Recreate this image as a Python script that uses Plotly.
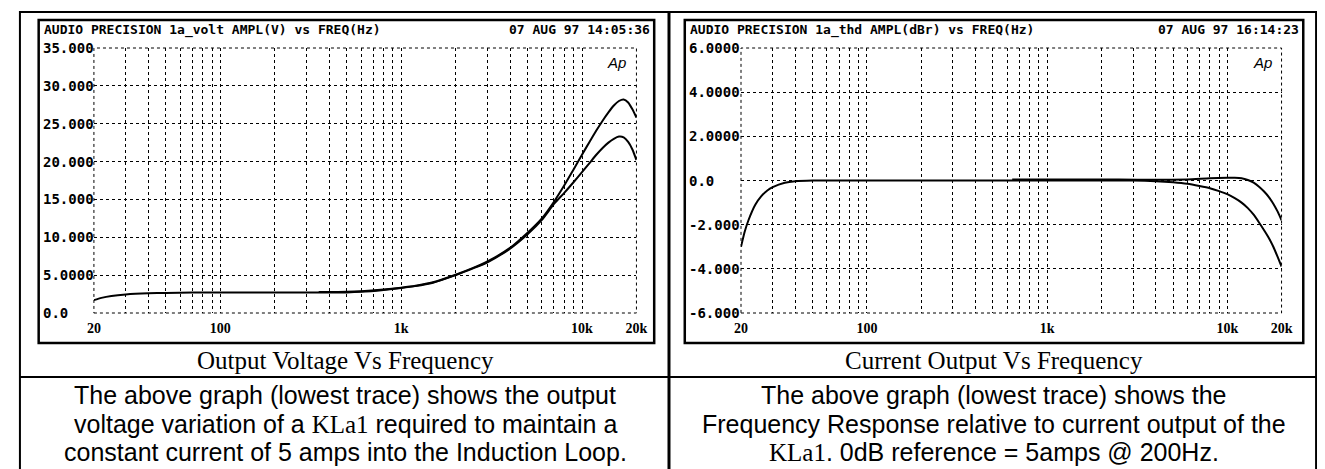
import math
import plotly.graph_objects as go

W, H = 1325, 469

# ---------------- data ----------------
grid_freqs = [20, 30, 40, 50, 60, 70, 80, 90, 100, 200, 300, 400, 500, 600, 700, 800, 900,
              1000, 2000, 3000, 4000, 5000, 6000, 7000, 8000, 9000, 10000, 20000]
x_labels = {20: "20", 100: "100", 1000: "1k", 10000: "10k", 20000: "20k"}

volt_ticks = [0, 5, 10, 15, 20, 25, 30, 35]
volt_tick_text = ["0.0", "5.0000", "10.000", "15.000", "20.000", "25.000", "30.000", "35.000"]
db_ticks = [-6, -4, -2, 0, 2, 4, 6]
db_tick_text = ["-6.000", "-4.000", "-2.000", "0.0", "2.0000", "4.0000", "6.0000"]

# Output voltage (V) - lowest trace
volt_lo_f = [20, 22, 25, 30, 40, 50, 70, 100, 200, 300, 400, 500, 600, 800, 1000, 1200, 1500,
             2000, 2500, 3000, 4000, 5000, 6000, 7000, 8000, 9000, 10000, 11000, 12000, 13000,
             14000, 15000, 16000, 17000, 18000, 19000, 20000]
volt_lo_v = [1.7, 2.0, 2.25, 2.45, 2.6, 2.65, 2.7, 2.7, 2.7, 2.7, 2.7, 2.72, 2.8, 3.05, 3.3, 3.55, 4.0,
             5.0, 5.9, 6.7, 8.5, 10.4, 12.3, 14.4, 15.9, 17.3, 18.6, 19.8, 20.9, 21.8,
             22.5, 23.0, 23.3, 23.2, 22.6, 21.6, 20.2]
# Output voltage (V) - upper trace
volt_hi_f = [350, 400, 500, 600, 800, 1000, 1200, 1500, 2000, 2500, 3000, 4000, 5000, 6000, 7000,
             8000, 9000, 10000, 11000, 12000, 13000, 14000, 15000, 16000, 17000, 18000, 19000, 20000]
volt_hi_v = [2.78, 2.78, 2.8, 2.87, 3.1, 3.35, 3.6, 4.05, 5.05, 5.95, 6.8, 8.6, 10.6, 12.5, 14.7,
             16.9, 19.0, 20.9, 22.6, 24.1, 25.4, 26.5, 27.4, 28.0, 28.2, 27.8, 26.9, 25.8]

# Current output (dBr) - lowest trace
db_lo_f = [20, 21, 22, 24, 26, 28, 30, 35, 40, 50, 100, 200, 500, 1000, 2000, 3000, 4000, 5000,
           6000, 7000, 8000, 9000, 10000, 11000, 12000, 13000, 14000, 15000, 16000, 17000,
           18000, 19000, 20000]
db_lo_v = [-3.0, -2.3, -1.8, -1.1, -0.7, -0.45, -0.3, -0.1, -0.03, 0.0, 0.0, 0.0, 0.0, 0.0, 0.0,
           0.0, -0.03, -0.08, -0.15, -0.25, -0.35, -0.48, -0.62, -0.8, -1.0, -1.25, -1.55,
           -1.9, -2.25, -2.6, -3.0, -3.45, -3.9]
# Current output (dBr) - upper trace
db_hi_f = [640, 1000, 2000, 2500, 4000, 6000, 8000, 10000, 11000, 12000, 13000, 14000, 15000,
           16000, 17000, 18000, 19000, 20000]
db_hi_v = [0.05, 0.05, 0.05, 0.04, 0.03, 0.05, 0.1, 0.12, 0.12, 0.1, 0.02, -0.1, -0.28,
           -0.5, -0.75, -1.05, -1.4, -1.8]

# ---------------- helpers ----------------
def px(x):
    return x / W


def py(y):
    return 1 - y / H


MONO = "DejaVu Sans Mono"
SERIF = "Liberation Serif"
SANS = "Liberation Sans"

fig = go.Figure()

line_style = dict(color="black", width=2, shape="spline", smoothing=0.6)
fig.add_trace(go.Scatter(x=volt_lo_f, y=volt_lo_v, mode="lines", line=line_style,
                         xaxis="x", yaxis="y", showlegend=False, hoverinfo="skip"))
fig.add_trace(go.Scatter(x=volt_hi_f, y=volt_hi_v, mode="lines", line=line_style,
                         xaxis="x", yaxis="y", showlegend=False, hoverinfo="skip"))
fig.add_trace(go.Scatter(x=db_lo_f, y=db_lo_v, mode="lines", line=line_style,
                         xaxis="x2", yaxis="y2", showlegend=False, hoverinfo="skip"))
fig.add_trace(go.Scatter(x=db_hi_f, y=db_hi_v, mode="lines", line=line_style,
                         xaxis="x2", yaxis="y2", showlegend=False, hoverinfo="skip"))

xr = [math.log10(20), math.log10(20000)]
ticktext = [x_labels.get(f, "") for f in grid_freqs]
GRID_TOP, GRID_BOT = 40, 305
grid_y_dom = [py(GRID_BOT), py(GRID_TOP)]

xcommon = dict(type="log", range=xr, tickvals=grid_freqs, ticktext=ticktext, showgrid=True,
               gridcolor="black", griddash="dot", gridwidth=1, zeroline=False, showline=False,
               ticks="", ticklabelstandoff=5,
               tickfont=dict(family=SERIF, size=14, color="black", weight="bold"),
               fixedrange=True)
ycommon = dict(showgrid=True, gridcolor="black", griddash="dot", gridwidth=1, zeroline=False,
               showline=False, showticklabels=False, ticks="", domain=grid_y_dom, fixedrange=True)

fig.update_layout(
    width=W, height=H, margin=dict(l=0, r=0, t=0, b=0),
    paper_bgcolor="white", plot_bgcolor="white",
    xaxis=dict(domain=[px(80), px(630)], anchor="y", **xcommon),
    yaxis=dict(range=[0, 35], tickvals=volt_ticks, anchor="x", **ycommon),
    xaxis2=dict(domain=[px(736), px(1284)], anchor="y2", **xcommon),
    yaxis2=dict(range=[-6, 6], tickvals=db_ticks, anchor="x2", **ycommon),
)

shapes = []
# page border and dividers
shapes.append(dict(type="rect", xref="paper", yref="paper", x0=px(5), x1=px(1319), y0=py(468), y1=py(4),
                   line=dict(color="black", width=2)))
shapes.append(dict(type="line", xref="paper", yref="paper", x0=px(663), x1=px(663), y0=py(468), y1=py(4),
                   line=dict(color="black", width=3)))
shapes.append(dict(type="line", xref="paper", yref="paper", x0=px(5), x1=px(1319), y0=py(369), y1=py(369),
                   line=dict(color="black", width=2)))
# analyzer boxes
for (x0, x1) in [(24, 648), (679, 1306)]:
    shapes.append(dict(type="rect", xref="paper", yref="paper", x0=px(x0), x1=px(x1), y0=py(335), y1=py(12),
                       line=dict(color="black", width=2.5)))
# dotted plot borders
for xa, ya in [("x", "y"), ("x2", "y2")]:
    shapes.append(dict(type="rect", xref=xa + " domain", yref=ya + " domain", x0=0, x1=1, y0=0, y1=1,
                       line=dict(color="black", width=1, dash="dot")))
fig.update_layout(shapes=shapes)

ann = []
hdr_font = dict(family=MONO, size=13, color="black", weight="bold")
ann.append(dict(text="AUDIO PRECISION 1a_volt AMPL(V) vs FREQ(Hz)", xref="paper", yref="paper",
                x=px(27), y=py(22), xanchor="left", yanchor="middle", showarrow=False, font=hdr_font))
ann.append(dict(text="07 AUG 97 14:05:36", xref="paper", yref="paper",
                x=px(646), y=py(22), xanchor="right", yanchor="middle", showarrow=False, font=hdr_font))
ann.append(dict(text="AUDIO PRECISION 1a_thd AMPL(dBr) vs FREQ(Hz)", xref="paper", yref="paper",
                x=px(682), y=py(22), xanchor="left", yanchor="middle", showarrow=False, font=hdr_font))
ann.append(dict(text="07 AUG 97 16:14:23", xref="paper", yref="paper",
                x=px(1304), y=py(22), xanchor="right", yanchor="middle", showarrow=False, font=hdr_font))

ap_font = dict(family=SANS, size=15, color="black", style="italic")
ann.append(dict(text="Ap", xref="paper", yref="paper", x=px(610), y=py(54), xanchor="center",
                yanchor="middle", showarrow=False, font=ap_font))
ann.append(dict(text="Ap", xref="paper", yref="paper", x=px(1265), y=py(54), xanchor="center",
                yanchor="middle", showarrow=False, font=ap_font))

lab_font = dict(family=MONO, size=14, color="black", weight="bold")
for v, t in zip(volt_ticks, volt_tick_text):
    ann.append(dict(text=t, xref="paper", yref="y", x=px(26), y=v, xanchor="left", yanchor="middle",
                    showarrow=False, font=lab_font))
for v, t in zip(db_ticks, db_tick_text):
    ann.append(dict(text=t, xref="paper", yref="y2", x=px(681), y=v, xanchor="left", yanchor="middle",
                    showarrow=False, font=lab_font))

cap_font = dict(family=SERIF, size=25, color="black")
ann.append(dict(text="Output Voltage Vs Frequency", xref="paper", yref="paper", x=px(335), y=py(352),
                xanchor="center", yanchor="middle", showarrow=False, font=cap_font))
ann.append(dict(text="Current Output Vs Frequency", xref="paper", yref="paper", x=px(992), y=py(352),
                xanchor="center", yanchor="middle", showarrow=False, font=cap_font))

body_font = dict(family=SANS, size=25, color="black")
kla = '<span style="font-family:Liberation Serif">KLa1</span>'
left_lines = ["The above graph (lowest trace) shows the output",
              "voltage variation of a " + kla + " required to maintain a",
              "constant current of 5 amps into the Induction Loop."]
right_lines = ["The above graph (lowest trace) shows the",
               "Frequency Response relative to current output of the",
               kla + ". 0dB reference = 5amps @ 200Hz."]
for i, (l, r) in enumerate(zip(left_lines, right_lines)):
    yy = py(387 + 28.5 * i)
    ann.append(dict(text=l, xref="paper", yref="paper", x=px(335), y=yy, xanchor="center",
                    yanchor="middle", showarrow=False, font=body_font))
    ann.append(dict(text=r, xref="paper", yref="paper", x=px(992), y=yy, xanchor="center",
                    yanchor="middle", showarrow=False, font=body_font))

fig.update_layout(annotations=ann)
fig.write_html("out.html")
